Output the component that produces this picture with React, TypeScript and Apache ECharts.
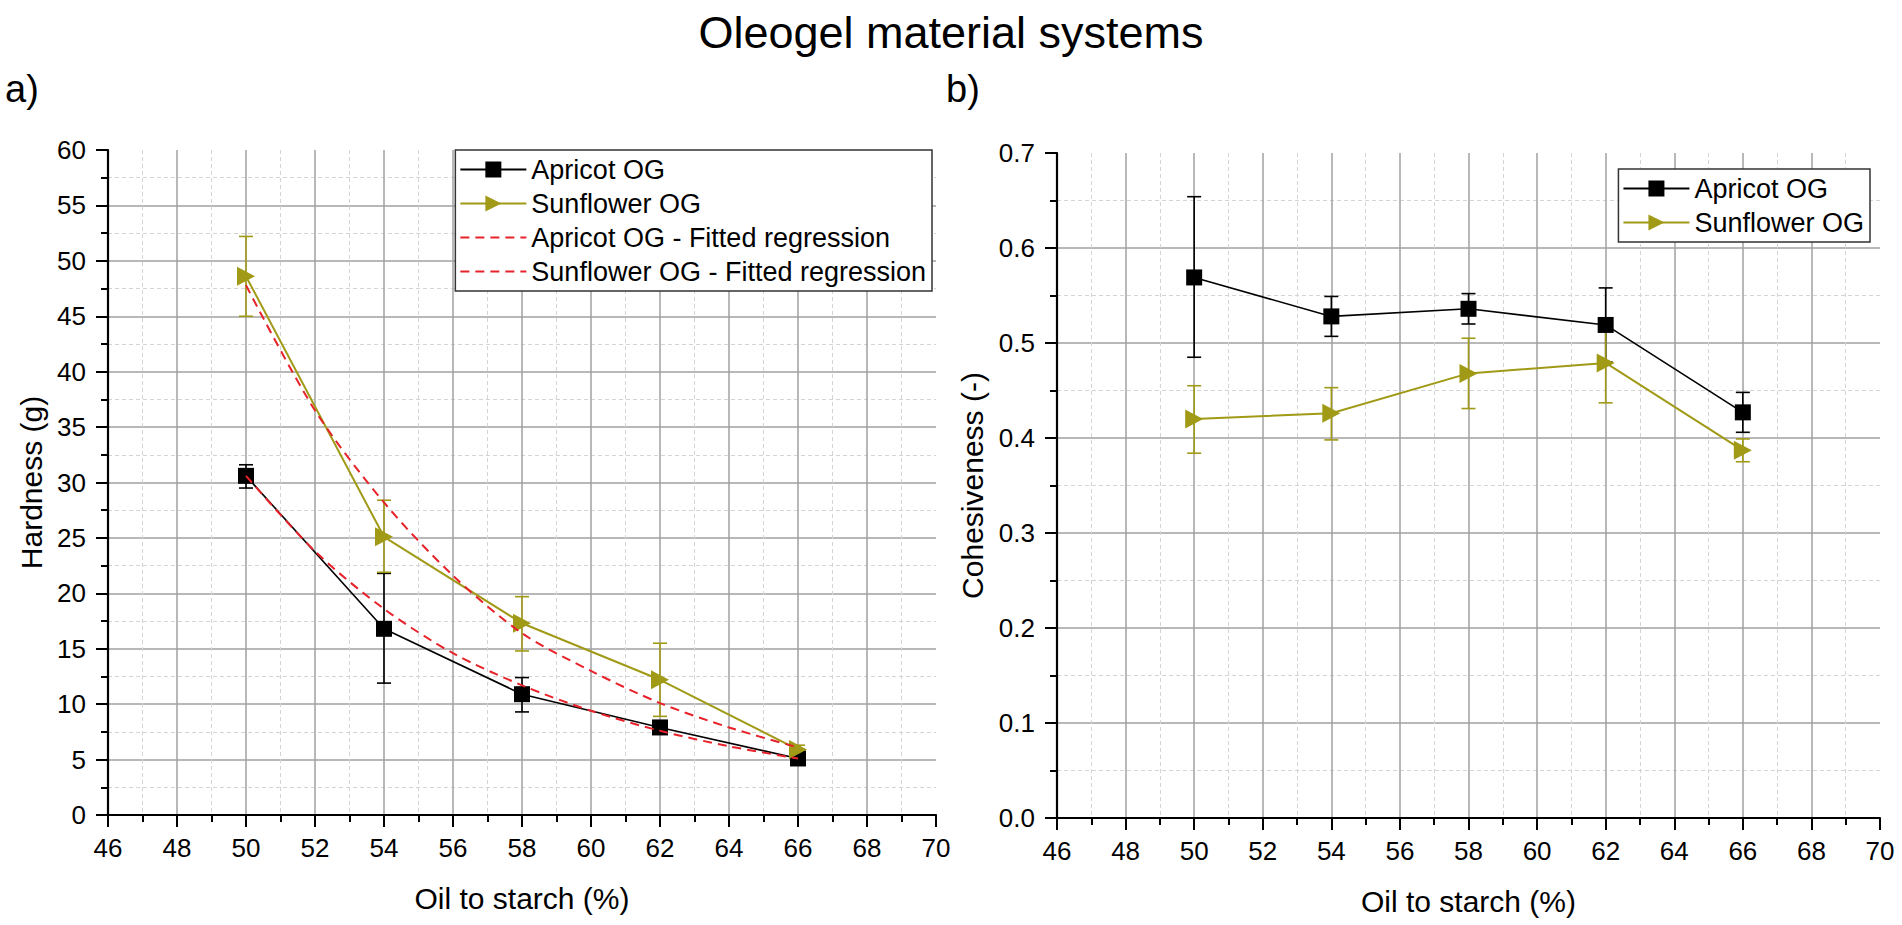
import { useEffect, useRef } from "react";
import * as echarts from "echarts";

const FONT = "'Liberation Sans', Arial, sans-serif";
const OLIVE = "#a09a16";
const RED = "#e8222a";

// Oil to starch levels (%)
const oilLevels = [50, 54, 58, 62, 66];

// a) Hardness (g)
const apricotHard = [30.6, 16.8, 10.9, 7.9, 5.1];
const apricotHardLow = [29.5, 11.9, 9.3, 7.3, 4.7];
const apricotHardHigh = [31.6, 21.8, 12.4, 8.5, 5.5];
const sunflowerHard = [48.6, 25.1, 17.3, 12.2, 5.9];
const sunflowerHardLow = [45.0, 21.9, 14.8, 8.9, 5.5];
const sunflowerHardHigh = [52.2, 28.4, 19.7, 15.5, 6.3];

// fitted regression curves
const fitLevels = [50, 52, 54, 56, 58, 60, 62, 64, 66];
const apricotFit = [30.6, 23.8, 18.6, 14.6, 11.7, 9.4, 7.6, 6.2, 5.1];
const sunflowerFit = [47.8, 36.5, 28.2, 21.6, 16.4, 13.0, 10.1, 7.9, 6.1];

// b) Cohesiveness (-)
const apricotCoh = [0.569, 0.528, 0.536, 0.519, 0.427];
const apricotCohLow = [0.485, 0.507, 0.52, 0.48, 0.406];
const apricotCohHigh = [0.654, 0.549, 0.552, 0.558, 0.448];
const sunflowerCoh = [0.42, 0.426, 0.468, 0.479, 0.387];
const sunflowerCohLow = [0.384, 0.398, 0.431, 0.437, 0.375];
const sunflowerCohHigh = [0.455, 0.453, 0.505, 0.52, 0.399];

const TRIANGLE = "path://M0,0L10,5L0,10Z";

const pairs = (xs: number[], ys: number[]) => xs.map((x, i) => [x, ys[i]]);

function errorBars(name: string, idx: number, lows: number[], highs: number[], color: string) {
  return {
    name,
    type: "custom",
    xAxisIndex: idx,
    yAxisIndex: idx,
    z: 2,
    encode: { x: 0, y: [1, 2] },
    data: oilLevels.map((x, i) => [x, lows[i], highs[i]]),
    renderItem: (_p: any, api: any) => {
      const x = api.value(0);
      const top = api.coord([x, api.value(2)]);
      const bot = api.coord([x, api.value(1)]);
      const w = 7;
      const style = { stroke: color, lineWidth: 1.6 };
      return {
        type: "group",
        children: [
          { type: "line", shape: { x1: top[0], y1: top[1], x2: bot[0], y2: bot[1] }, style },
          { type: "line", shape: { x1: top[0] - w, y1: top[1], x2: top[0] + w, y2: top[1] }, style },
          { type: "line", shape: { x1: bot[0] - w, y1: bot[1], x2: bot[0] + w, y2: bot[1] }, style },
        ],
      };
    },
  };
}

function xAxis(gridIndex: number) {
  return {
    type: "value",
    gridIndex,
    min: 46,
    max: 70,
    interval: 2,
    name: "Oil to starch (%)",
    nameLocation: "middle",
    nameGap: 68,
    nameTextStyle: { fontSize: 30, color: "#000", fontFamily: FONT },
    axisLine: { show: true, onZero: false, lineStyle: { color: "#000", width: 2.2 } },
    axisTick: { show: true, length: 12, lineStyle: { color: "#000", width: 2 } },
    minorTick: { show: true, splitNumber: 2, length: 7, lineStyle: { color: "#000", width: 2 } },
    axisLabel: { fontSize: 26, color: "#000", fontFamily: FONT, margin: 20 },
    splitLine: { show: true, showMaxLine: false, lineStyle: { color: "#a0a0a0", width: 1.5 } },
    minorSplitLine: { show: true, lineStyle: { color: "#d4d4d4", width: 1, type: [4, 3] } },
  };
}

function yAxis(gridIndex: number, name: string, max: number, interval: number, gap: number, fmt?: (v: number) => string) {
  return {
    type: "value",
    gridIndex,
    min: 0,
    max,
    interval,
    name,
    nameLocation: "middle",
    nameGap: gap,
    nameTextStyle: { fontSize: 30, color: "#000", fontFamily: FONT },
    axisLine: { show: true, onZero: false, lineStyle: { color: "#000", width: 2.2 } },
    axisTick: { show: true, length: 12, lineStyle: { color: "#000", width: 2 } },
    minorTick: { show: true, splitNumber: 2, length: 7, lineStyle: { color: "#000", width: 2 } },
    axisLabel: { fontSize: 26, color: "#000", fontFamily: FONT, margin: 22, formatter: fmt },
    splitLine: { show: true, showMaxLine: false, lineStyle: { color: "#a0a0a0", width: 1.5 } },
    minorSplitLine: { show: true, lineStyle: { color: "#d4d4d4", width: 1, type: [4, 3] } },
  };
}

const legendBox = {
  orient: "vertical",
  backgroundColor: "#fff",
  borderColor: "#333",
  borderWidth: 1.5,
  borderRadius: 0,
  itemWidth: 66,
  itemHeight: 20,
  itemGap: 7,
  padding: [6, 6, 6, 4],
  textStyle: { fontSize: 27, color: "#000", fontFamily: FONT },
};

// legend entries for the fits show only the dashed line
const lineOnly = (name: string) => ({ name, itemStyle: { color: "transparent", opacity: 0 } });

export default function App() {
  const ref = useRef<HTMLDivElement>(null);

  useEffect(() => {
    if (!ref.current) return;
    const chart = echarts.init(ref.current, undefined, { renderer: "svg" });
    chart.setOption({
      animation: false,
      backgroundColor: "#fff",
      textStyle: { fontFamily: FONT },
      title: {
        text: "Oleogel material systems",
        left: "center",
        top: 10,
        padding: 0,
        textStyle: { fontSize: 45, fontWeight: "normal", color: "#000", fontFamily: FONT },
      },
      graphic: [
        { type: "text", left: 5, top: 70, style: { text: "a)", fontSize: 38, fill: "#000", fontFamily: FONT } },
        { type: "text", left: 946, top: 70, style: { text: "b)", fontSize: 38, fill: "#000", fontFamily: FONT } },
      ],
      grid: [
        { left: 108, top: 150, width: 828, height: 665 },
        { left: 1057, top: 153, width: 823, height: 665 },
      ],
      xAxis: [xAxis(0), xAxis(1)],
      yAxis: [
        yAxis(0, "Hardness (g)", 60, 5, 62),
        yAxis(1, "Cohesiveness (-)", 0.7, 0.1, 70, (v: number) => v.toFixed(1)),
      ],
      legend: [
        {
          ...legendBox,
          right: 970,
          top: 150,
          data: [
            "Apricot OG",
            "Sunflower OG",
            lineOnly("Apricot OG - Fitted regression"),
            lineOnly("Sunflower OG - Fitted regression"),
          ],
        },
        {
          ...legendBox,
          right: 32,
          top: 169,
          data: ["Apricot OG", "Sunflower OG"],
        },
      ],
      series: [
        errorBars("apricot-hard-err", 0, apricotHardLow, apricotHardHigh, "#000"),
        errorBars("sunflower-hard-err", 0, sunflowerHardLow, sunflowerHardHigh, OLIVE),
        {
          name: "Apricot OG",
          type: "line",
          xAxisIndex: 0,
          yAxisIndex: 0,
          z: 3,
          data: pairs(oilLevels, apricotHard),
          symbol: "rect",
          symbolSize: 16,
          itemStyle: { color: "#000" },
          lineStyle: { color: "#000", width: 1.6 },
        },
        {
          name: "Sunflower OG",
          type: "line",
          xAxisIndex: 0,
          yAxisIndex: 0,
          z: 3,
          data: pairs(oilLevels, sunflowerHard),
          symbol: TRIANGLE,
          symbolSize: [18, 19],
          itemStyle: { color: OLIVE },
          lineStyle: { color: OLIVE, width: 2 },
        },
        {
          name: "Apricot OG - Fitted regression",
          type: "line",
          xAxisIndex: 0,
          yAxisIndex: 0,
          z: 4,
          smooth: 0.3,
          symbol: "none",
          data: pairs(fitLevels, apricotFit),
          itemStyle: { color: RED },
          lineStyle: { color: RED, width: 2, type: [9, 6] },
        },
        {
          name: "Sunflower OG - Fitted regression",
          type: "line",
          xAxisIndex: 0,
          yAxisIndex: 0,
          z: 4,
          smooth: 0.3,
          symbol: "none",
          data: pairs(fitLevels, sunflowerFit),
          itemStyle: { color: RED },
          lineStyle: { color: RED, width: 2, type: [9, 6] },
        },
        errorBars("apricot-coh-err", 1, apricotCohLow, apricotCohHigh, "#000"),
        errorBars("sunflower-coh-err", 1, sunflowerCohLow, sunflowerCohHigh, OLIVE),
        {
          name: "Apricot OG",
          type: "line",
          xAxisIndex: 1,
          yAxisIndex: 1,
          z: 3,
          data: pairs(oilLevels, apricotCoh),
          symbol: "rect",
          symbolSize: 16,
          itemStyle: { color: "#000" },
          lineStyle: { color: "#000", width: 1.6 },
        },
        {
          name: "Sunflower OG",
          type: "line",
          xAxisIndex: 1,
          yAxisIndex: 1,
          z: 3,
          data: pairs(oilLevels, sunflowerCoh),
          symbol: TRIANGLE,
          symbolSize: [18, 19],
          itemStyle: { color: OLIVE },
          lineStyle: { color: OLIVE, width: 2 },
        },
      ],
    });
    return () => chart.dispose();
  }, []);

  return (
    <div
      ref={ref}
      style={{ position: "fixed", left: 0, top: 0, width: 1902, height: 925, background: "#fff" }}
    />
  );
}
